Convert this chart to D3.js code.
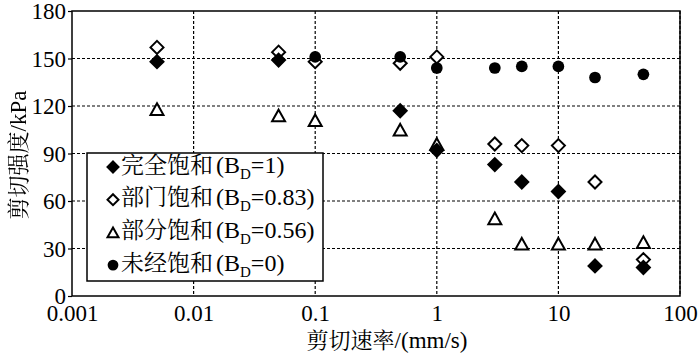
<!DOCTYPE html>
<html><head><meta charset="utf-8">
<script src="https://cdn.jsdelivr.net/npm/d3@7"></script>
<style>
body{margin:0;background:#fff;}
svg{display:block;}
</style></head>
<body><svg id="c" width="700" height="356"></svg>
<script>
const xTicks = [0.001, 0.01, 0.1, 1, 10, 100];
const xTickLabels = ["0.001", "0.01", "0.1", "1", "10", "100"];
const yTicks = [0, 30, 60, 90, 120, 150, 180];

const rates = [0.005, 0.05, 0.1, 0.5, 1, 3, 5, 10, 20, 50];
const fullSat = [148, 149, null, 117, 92, 83, 72, 66, 19, 18];      // B_D=1
const partSat83 = [157, 154, 148, 147, 151, 96, 95, 95, 72, 23];   // B_D=0.83
const partSat56 = [118, 114, 111, 105, 96, 49, 33, 33, 33, 34];    // B_D=0.56
const unsat = [null, null, 151, 151, 144, 144, 145, 145, 138, 140]; // B_D=0

const seriesNames = ["完全饱和", "部门饱和", "部分饱和", "未经饱和"];
const seriesBD = ["1", "0.83", "0.56", "0"];
const seriesShapes = ["diamondFill", "diamondOpen", "triangle", "circle"];
const seriesData = [fullSat, partSat83, partSat56, unsat];

const NUM = '"Liberation Serif"';
const CJK = '"Noto Serif CJK SC"';

const svg = d3.select("#c");
const L = 72, R = 680, T = 11, B = 296;
const x = d3.scaleLog().domain([0.001, 100]).range([L, R]);
const y = d3.scaleLinear().domain([0, 180]).range([B, T]);

const defs = svg.append("defs");
defs.append("filter").attr("id", "gray").append("feColorMatrix").attr("type", "saturate").attr("values", 0);

// grid
const g = svg.append("g");
g.selectAll(".vg").data(xTicks.slice(1)).enter().append("line")
  .attr("x1", d => x(d)).attr("x2", d => x(d)).attr("y1", T).attr("y2", B)
  .attr("stroke", "#000").attr("stroke-width", 1.2).attr("stroke-dasharray", "3,2");
g.selectAll(".hg").data(yTicks.slice(1, -1)).enter().append("line")
  .attr("x1", L).attr("x2", R).attr("y1", d => y(d)).attr("y2", d => y(d))
  .attr("stroke", "#000").attr("stroke-width", 1.2).attr("stroke-dasharray", "3,2");

// axes
const xAxis = d3.axisBottom(x).tickValues(xTicks).tickFormat((d, i) => xTickLabels[i]).tickSize(0).tickPadding(12);
const gx = svg.append("g").attr("transform", `translate(0,${B})`).call(xAxis);
gx.select(".domain").remove();
gx.selectAll("text").style("font-family", NUM).style("font-size", "23px").attr("fill", "#000").attr("dy", "0.58em");
const yAxis = d3.axisLeft(y).tickValues(yTicks).tickSize(4).tickPadding(2);
const gy = svg.append("g").attr("transform", `translate(${L},0)`).call(yAxis);
gy.select(".domain").remove();
gy.selectAll("line").attr("stroke", "#000").attr("stroke-width", 1.2);
gy.selectAll("text").style("font-family", NUM).style("font-size", "23px").attr("fill", "#000").attr("dy", "0.34em");

// frame
svg.append("rect").attr("x", L).attr("y", T).attr("width", R - L).attr("height", B - T)
  .attr("fill", "none").attr("stroke", "#000").attr("stroke-width", 1.5);

// markers
function drawMarker(sel, shape, cx, cy, s) {
  if (shape === "diamondFill" || shape === "diamondOpen") {
    const h = s * 0.5;
    sel.append("path").attr("d", `M${cx},${cy - h}L${cx + h},${cy}L${cx},${cy + h}L${cx - h},${cy}Z`)
      .attr("fill", shape === "diamondFill" ? "#000" : "#fff").attr("stroke", "#000").attr("stroke-width", 2);
  } else if (shape === "triangle") {
    const w = s * 0.5, h = s * 0.45;
    sel.append("path").attr("d", `M${cx},${cy - h}L${cx + w},${cy + h}L${cx - w},${cy + h}Z`)
      .attr("fill", "#fff").attr("stroke", "#000").attr("stroke-width", 2);
  } else {
    sel.append("circle").attr("cx", cx).attr("cy", cy).attr("r", s * 0.45).attr("fill", "#000");
  }
}
const mg = svg.append("g");
[2, 1, 0, 3].forEach(si => {
  seriesData[si].forEach((v, i) => {
    if (v === null) return;
    drawMarker(mg, seriesShapes[si], x(rates[i]), y(v), 13);
  });
});

// legend
const lg = svg.append("g");
lg.append("rect").attr("x", 87).attr("y", 153).attr("width", 236).attr("height", 128)
  .attr("fill", "#fff").attr("stroke", "#000").attr("stroke-width", 1.5);
seriesNames.forEach((n, i) => {
  const cy = 167 + i * 32.7;
  drawMarker(lg, seriesShapes[i], 113, cy, i === 3 ? 12 : 11);
  const t = lg.append("text").attr("x", 121).attr("y", cy).attr("dy", "0.36em").attr("fill", "#000");
  t.append("tspan").style("font-family", CJK).style("font-size", "23px").text(n);
  t.append("tspan").style("font-family", NUM).style("font-size", "24px").attr("dx", 3).text("(B");
  t.append("tspan").style("font-family", NUM).style("font-size", "15px").attr("dy", 6).text("D");
  t.append("tspan").style("font-family", NUM).style("font-size", "24px").attr("dy", -6).text("=" + seriesBD[i] + ")");
});

// titles
const xt = svg.append("text").attr("x", 387).attr("y", 348).attr("text-anchor", "middle").attr("fill", "#000");
xt.append("tspan").style("font-family", CJK).style("font-size", "22px").text("剪切速率");
xt.append("tspan").style("font-family", NUM).style("font-size", "23px").text("/(mm/s)");
const yt = svg.append("g").attr("filter", "url(#gray)").append("text")
  .attr("transform", "translate(26,155) rotate(-90)").attr("text-anchor", "middle").attr("fill", "#000");
yt.append("tspan").style("font-family", CJK).style("font-size", "22px").text("剪切强度");
yt.append("tspan").style("font-family", NUM).style("font-size", "23px").text("/kPa");
</script></body></html>
